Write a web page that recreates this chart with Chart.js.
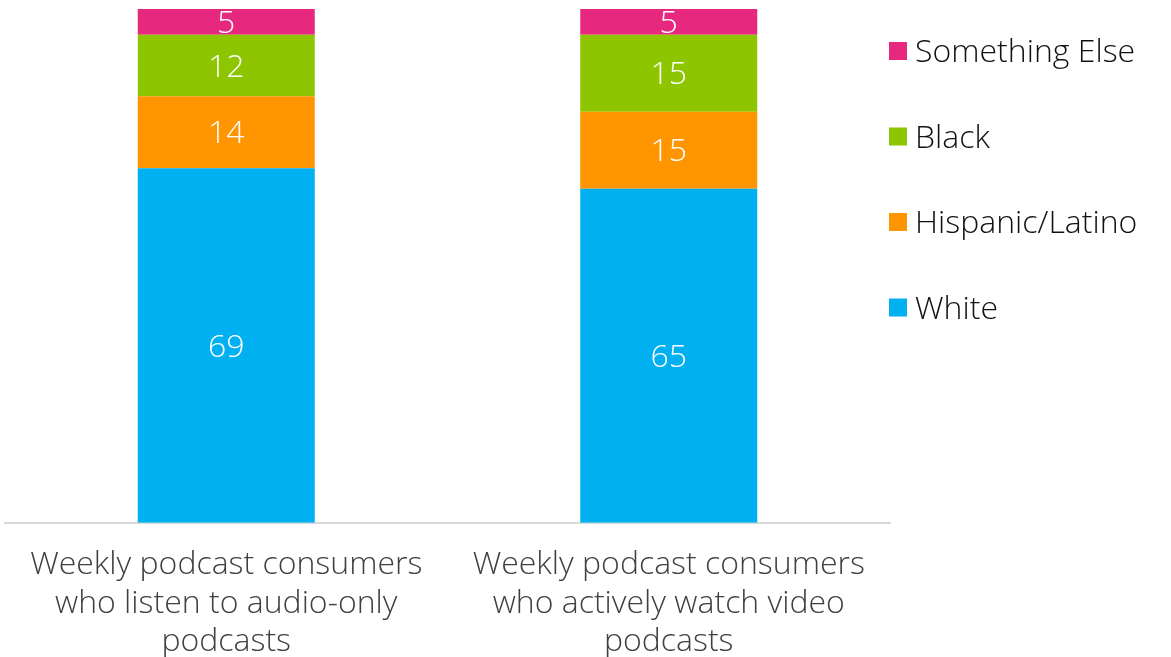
<!DOCTYPE html>
<html>
<head>
<meta charset="utf-8">
<script src="https://cdn.jsdelivr.net/npm/chart.js@4"></script>
<style>
  html, body { margin: 0; padding: 0; background: #fff; }
  #wrap { width: 1171px; height: 657px; }
</style>
</head>
<body>
<div id="wrap"><canvas id="raceChart"></canvas></div>
<script>
// stacked shares (%) by group
const categories = [
  ['Weekly podcast consumers', 'who listen to audio-only', 'podcasts'],
  ['Weekly podcast consumers', 'who actively watch video', 'podcasts'],
];
const seriesNames = ['White', 'Hispanic/Latino', 'Black', 'Something Else'];
const white    = [69, 65];
const hispanic = [14, 15];
const black    = [12, 15];
const other    = [5, 5];

const COLORS = ['#00B0F0', '#FF9500', '#8DC500', '#E6287F'];
const FONT = "'Open Sans', Lato, sans-serif";

// value labels inside each segment
const segmentLabels = {
  id: 'segmentLabels',
  afterDatasetsDraw(chart) {
    const c = chart.ctx;
    c.save();
    c.fillStyle = '#fff';
    c.font = '300 32px ' + FONT;
    c.textAlign = 'center';
    c.textBaseline = 'middle';
    chart.data.datasets.forEach((ds, i) => {
      chart.getDatasetMeta(i).data.forEach((bar, j) => {
        const mid = (bar.y + bar.base) / 2;
        c.fillText(String(ds.data[j]), bar.x, mid + 2);
      });
    });
    c.restore();
  }
};

// legend on the right, reversed order (top = last series)
const sideLegend = {
  id: 'sideLegend',
  afterDraw(chart) {
    const c = chart.ctx;
    c.save();
    c.font = '300 32px ' + FONT;
    c.textBaseline = 'middle';
    c.textAlign = 'left';
    const n = chart.data.datasets.length;
    for (let k = 0; k < n; k++) {
      const ds = chart.data.datasets[n - 1 - k];
      const y = 51 + k * 85.5;
      c.fillStyle = ds.backgroundColor;
      c.fillRect(889, y - 9, 18, 18);
      c.fillStyle = '#111';
      c.fillText(ds.label, 915, y + 2);
    }
    c.restore();
  }
};

const seriesData = [white, hispanic, black, other];

new Chart(document.getElementById('raceChart'), {
  type: 'bar',
  data: {
    labels: categories,
    datasets: seriesNames.map((name, i) => ({
      label: name,
      data: seriesData[i],
      backgroundColor: COLORS[i],
      borderWidth: 0,
      barPercentage: 0.4,
      categoryPercentage: 1,
    }))
  },
  plugins: [segmentLabels, sideLegend],
  options: {
    responsive: true,
    maintainAspectRatio: false,
    animation: false,
    layout: { padding: { left: 5, right: 281, top: 9, bottom: -27 } },
    plugins: {
      legend: { display: false },
      tooltip: { enabled: false }
    },
    scales: {
      x: {
        stacked: true,
        grid: { display: false, drawTicks: false },
        border: { display: true, color: '#D9D9D9', width: 2 },
        ticks: {
          color: '#404040',
          padding: 23,
          maxRotation: 0,
          autoSkip: false,
          font: { family: FONT, size: 32, weight: '300', lineHeight: 1.2 }
        }
      },
      y: {
        stacked: true,
        display: false,
        min: 0,
        max: 100
      }
    }
  }
});
</script>
</body>
</html>
